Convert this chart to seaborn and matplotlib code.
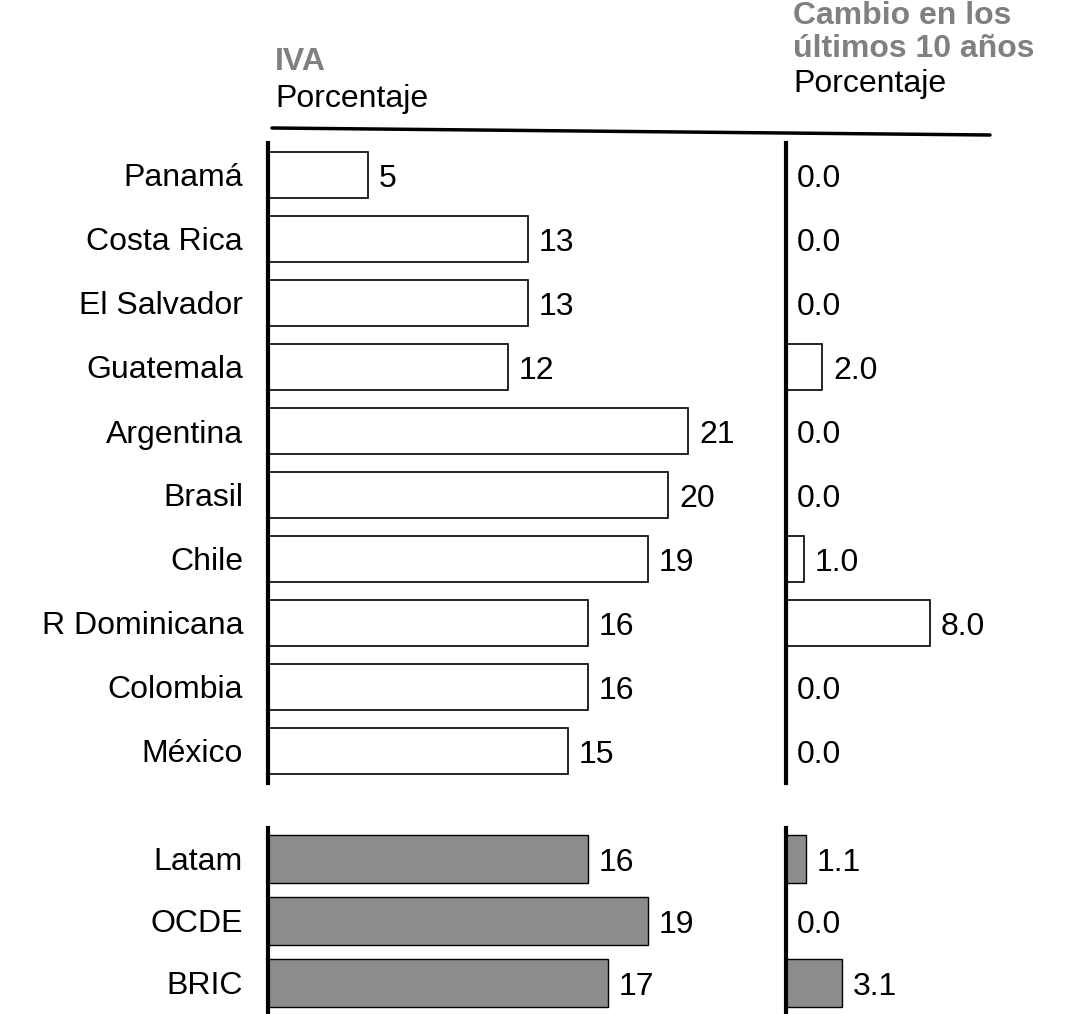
import matplotlib
matplotlib.use("Agg")
import matplotlib.pyplot as plt
import seaborn as sns
import pandas as pd

countries = ["Panamá", "Costa Rica", "El Salvador", "Guatemala", "Argentina",
             "Brasil", "Chile", "R Dominicana", "Colombia", "México"]
iva = [5, 13, 13, 12, 21, 20, 19, 16, 16, 15]
cambio = [0.0, 0.0, 0.0, 2.0, 0.0, 0.0, 1.0, 8.0, 0.0, 0.0]

groups = ["Latam", "OCDE", "BRIC"]
iva_groups = [16, 19, 17]
cambio_groups = [1.1, 0.0, 3.1]

sns.set_theme(style="white")
plt.rcParams['font.family'] = ['Liberation Sans', 'DejaVu Sans']

W, H = 1077, 1014
fig = plt.figure(figsize=(W / 100, H / 100), dpi=100)


def axes_px(x0, y0, w, h):
    return fig.add_axes([x0 / W, 1 - (y0 + h) / H, w / W, h / H])


FS = 23
GRAY = "#8c8c8c"

# pixel layout
L_X0, L_W, L_SCALE = 268, 500, 20.0
R_X0, R_W, R_SCALE = 786, 260, 18.0
TOP_Y0, TOP_H = 143, 640
BOT_Y0, BOT_H = 828, 186


def panel(ax, cats, vals, xmax, fmt, filled, show_labels):
    df = pd.DataFrame({"cat": cats, "val": vals})
    if filled:
        sns.barplot(data=df, x="val", y="cat", ax=ax, color=GRAY, saturation=1,
                    edgecolor="black", linewidth=1.0, width=0.77, orient="h")
    else:
        sns.barplot(data=df, x="val", y="cat", ax=ax, color="white", saturation=1,
                    edgecolor="black", linewidth=1.2, width=0.72, orient="h")
    ax.set_xlim(0, xmax)
    ax.set_xlabel("")
    ax.set_ylabel("")
    ax.set_xticks([])
    for s in ["top", "right", "bottom"]:
        ax.spines[s].set_visible(False)
    ax.spines["left"].set_linewidth(3.0)
    ax.spines["left"].set_color("black")
    ax.tick_params(axis="y", length=0, pad=18, labelsize=FS, labelcolor="black")
    if not show_labels:
        ax.set_yticklabels([])
    for c in ax.containers:
        anns = ax.bar_label(c, labels=[fmt.format(v) for v in vals], padding=8,
                            fontsize=FS, color="black")
        for a in anns:
            a.xyann = (a.xyann[0], -3)
    ax.patch.set_alpha(0)


ax1 = axes_px(L_X0, TOP_Y0, L_W, TOP_H)
panel(ax1, countries, iva, L_W / L_SCALE, "{:.0f}", False, True)
ax2 = axes_px(L_X0, BOT_Y0, L_W, BOT_H)
panel(ax2, groups, iva_groups, L_W / L_SCALE, "{:.0f}", True, True)
ax3 = axes_px(R_X0, TOP_Y0, R_W, TOP_H)
panel(ax3, countries, cambio, R_W / R_SCALE, "{:.1f}", False, False)
ax4 = axes_px(R_X0, BOT_Y0, R_W, BOT_H)
panel(ax4, groups, cambio_groups, R_W / R_SCALE, "{:.1f}", True, False)

# headers
fig.text(275 / W, 1 - 62 / H, "IVA", fontsize=FS, fontweight="bold",
         color="#808080", va="center", ha="left")
fig.text(275 / W, 1 - 99 / H, "Porcentaje", fontsize=FS, color="black",
         va="center", ha="left")
fig.text(793 / W, 1 - 16 / H, "Cambio en los", fontsize=FS, fontweight="bold",
         color="#808080", va="center", ha="left")
fig.text(793 / W, 1 - 49 / H, "últimos 10 años", fontsize=FS, fontweight="bold",
         color="#808080", va="center", ha="left")
fig.text(793 / W, 1 - 84 / H, "Porcentaje", fontsize=FS, color="black",
         va="center", ha="left")

# header rule
fig.add_artist(plt.Line2D([272 / W, 990 / W], [1 - 128 / H, 1 - 135 / H],
                          color="black", linewidth=2.5, transform=fig.transFigure))

fig.savefig("out.png", dpi=100, facecolor="white")
